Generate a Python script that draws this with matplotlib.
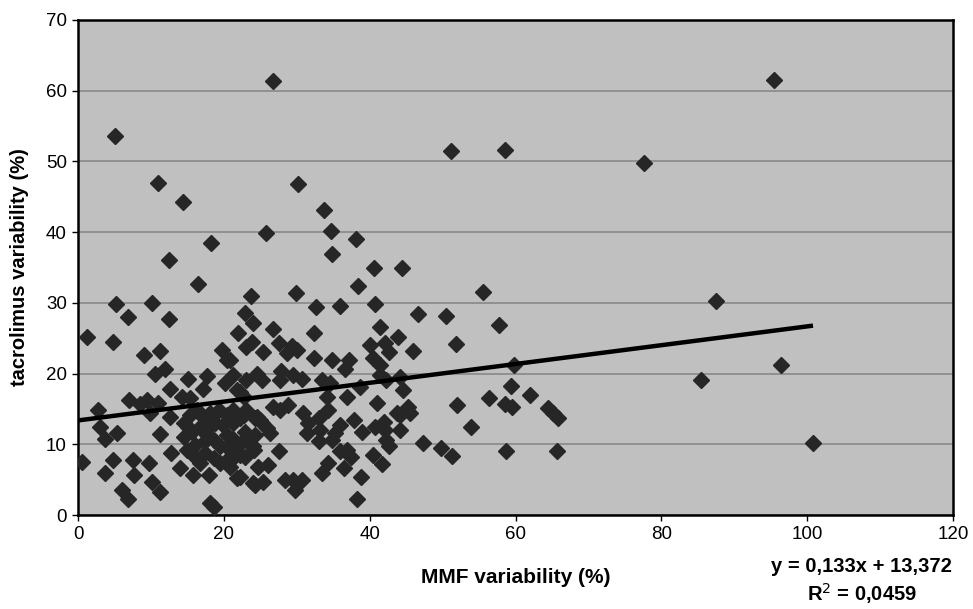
import matplotlib
matplotlib.use("Agg")
import matplotlib.pyplot as plt
import numpy as np

plt.rcParams['font.family'] = ['Liberation Sans', 'DejaVu Sans']

# MMF variability (%) and tacrolimus variability (%) per patient
mmf = [
    0.6, 1.3, 2.8, 3.0, 3.7, 3.7, 4.8, 4.8, 5.1, 5.2, 5.3, 6.0, 6.9, 6.9, 7.0, 7.6, 7.7, 8.5, 9.1, 9.4,
    9.8, 9.9, 10.1, 10.2, 10.6, 11.0, 11.0, 11.2, 11.2, 11.2, 11.9, 12.5, 12.5, 12.6, 12.6, 12.8, 14.0, 14.2, 14.4, 15.1,
    15.1, 15.4, 15.8, 16.5, 16.7, 17.2, 17.7, 17.9, 18.1, 18.6, 18.3, 19.7, 20.2, 20.4, 20.9, 21.3, 21.8, 21.8, 22.0, 22.2,
    22.7, 22.9, 23.1, 23.1, 23.7, 24.0, 23.8, 24.3, 24.5, 25.2, 25.4, 25.4, 25.8, 26.8, 26.7, 27.5, 27.9, 27.7, 28.6, 29.3,
    30.0, 29.5, 30.7, 29.9, 30.2, 32.3, 32.6, 32.3, 33.4, 34.6, 33.7, 34.7, 34.8, 34.8, 35.9, 36.6, 37.1, 34.1, 36.9, 38.1,
    38.4, 38.7, 40.6, 40.7, 40.0, 40.5, 41.4, 41.4, 41.4, 42.3, 42.1, 42.6, 43.9, 44.4, 44.2, 44.6, 41.0, 45.3, 45.5, 44.2,
    44.2, 46.0, 46.6, 47.3, 49.8, 50.5, 51.1, 51.3, 51.9, 52.0, 53.9, 55.5, 56.3, 57.8, 58.5, 58.6, 59.5, 58.7, 59.4, 59.8,
    62.0, 64.5, 65.2, 65.8, 65.7, 77.6, 85.4, 87.5, 95.4, 96.4, 100.8,
    26.8, 27.7, 28.8, 25.0, 26.3, 25.9, 30.9, 31.6, 33.0, 33.2, 34.3, 31.4, 33.0, 34.8, 35.3, 35.9, 37.8, 38.9, 40.7, 41.9,
    42.1, 42.3, 42.6, 43.7, 22.9, 23.4, 24.0, 22.9, 20.9, 20.9, 27.6, 26.0, 20.9, 22.2, 24.0, 28.4, 29.5, 30.7, 29.8, 34.3,
    33.4, 35.9, 36.9, 37.5, 36.5, 38.8, 38.2, 40.5, 41.7, 24.5, 21.3, 22.7,
    14.5, 15.4, 16.3, 17.2, 18.1, 19.3, 20.4, 14.5, 15.6, 16.7, 17.9, 18.8, 19.9, 21.3, 22.2, 23.1, 24.3, 25.2, 14.9, 16.1,
    17.4, 18.6, 19.5, 20.9, 22.2, 23.1, 24.3, 16.1, 17.4, 18.6, 19.5, 20.4, 21.3, 22.2, 24.1, 24.7, 23.6, 17.7, 20.4, 21.3,
]
tac = [
    7.5, 25.2, 14.9, 12.5, 10.8, 6.0, 24.4, 7.8, 53.6, 29.8, 11.6, 3.5, 2.2, 28.0, 16.2, 7.8, 5.7, 15.7, 22.6, 16.3,
    7.4, 14.4, 4.7, 30.0, 20.0, 46.9, 15.8, 23.2, 11.4, 3.3, 20.7, 36.0, 27.7, 17.8, 13.9, 8.7, 6.7, 16.7, 44.3, 19.2,
    12.5, 16.5, 5.6, 32.7, 7.4, 17.8, 19.7, 5.6, 1.7, 1.2, 38.4, 23.3, 18.6, 21.9, 21.9, 19.8, 5.2, 17.7, 25.8, 17.4,
    16.7, 28.5, 23.8, 19.1, 31.0, 27.1, 24.5, 4.3, 20.0, 19.1, 4.7, 23.1, 39.9, 61.4, 26.3, 24.3, 20.3, 19.1, 22.9, 23.9,
    23.3, 19.8, 19.3, 31.4, 46.8, 25.7, 29.4, 22.2, 19.1, 18.6, 43.2, 40.2, 36.9, 21.9, 29.6, 20.7, 21.9, 16.7, 16.7, 39.1,
    32.4, 18.1, 34.9, 29.8, 24.0, 22.2, 21.2, 26.6, 19.8, 19.1, 24.3, 23.1, 25.2, 34.9, 19.5, 17.7, 15.8, 15.3, 14.4, 14.1,
    12.0, 23.2, 28.4, 10.2, 9.5, 28.2, 51.5, 8.3, 24.2, 15.6, 12.4, 31.5, 16.6, 26.9, 51.6, 15.7, 15.3, 9.1, 18.3, 21.2,
    16.9, 15.1, 14.4, 13.7, 9.1, 49.8, 19.1, 30.2, 61.5, 21.2, 10.2,
    15.3, 14.9, 15.6, 13.4, 11.6, 12.3, 14.4, 13.0, 13.7, 12.0, 14.9, 11.6, 10.4, 10.6, 11.6, 12.7, 13.4, 11.8, 12.5, 13.2,
    12.0, 10.6, 9.7, 14.4, 11.8, 10.6, 9.7, 8.2, 10.1, 8.2, 9.0, 7.1, 6.8, 5.4, 4.5, 5.0, 5.0, 5.0, 3.5, 7.3,
    6.0, 9.0, 9.2, 8.2, 6.6, 5.4, 2.3, 8.5, 7.2, 13.9, 14.9, 14.1,
    13.0, 14.1, 14.9, 13.9, 14.4, 14.9, 14.1, 11.1, 11.8, 12.5, 12.5, 13.0, 12.7, 13.0, 13.7, 14.9, 13.7, 13.0, 9.2, 9.9,
    10.4, 10.6, 9.7, 9.2, 10.1, 10.8, 11.3, 8.2, 8.7, 8.0, 7.3, 7.5, 8.0, 8.5, 9.2, 6.8, 10.1, 11.3, 11.3, 10.8,
]

slope = 0.133
intercept = 13.372
r2 = 0.0459

x_ticks = [0, 20, 40, 60, 80, 100, 120]
y_ticks = [0, 10, 20, 30, 40, 50, 60, 70]

fig = plt.figure(figsize=(9.73, 6.09), dpi=100)
ax = fig.add_axes([78/973, (609-515)/609, (953-78)/973, (515-20)/609])
ax.set_facecolor('#c0c0c0')
ax.set_xlim(0, 120)
ax.set_ylim(0, 70)
ax.set_xticks(x_ticks)
ax.set_yticks(y_ticks)
ax.yaxis.grid(True, color='#8c8c8c', lw=1.3)
ax.set_axisbelow(True)
for s in ax.spines.values():
    s.set_linewidth(1.8)
    s.set_color('black')
ax.tick_params(axis='both', direction='out', length=4, width=1, labelsize=13.5, pad=4)

ax.plot(mmf, tac, linestyle='none', marker='D', markersize=8.3, color='#262626', mec='#262626', zorder=3)
xl = np.array([0, max(mmf)])
ax.plot(xl, slope*xl + intercept, color='black', lw=3.2, solid_capstyle='butt', zorder=4)

ax.set_xlabel('MMF variability (%)', fontsize=15, fontweight='bold', labelpad=18)
ax.set_ylabel('tacrolimus variability (%)', fontsize=14.5, fontweight='bold', labelpad=12)

eq = f"y = {slope:.3f}x + {intercept:.3f}".replace('.', ',')
fig.text(861/973, 1-567/609, eq, ha='center', va='center', fontsize=14.5, fontweight='bold')
fig.text(862/973, 1-594/609, f"R$^2$ = {r2:.4f}".replace('.', ','), ha='center', va='center', fontsize=14.5, fontweight='bold')

fig.savefig('out.png', dpi=100)
